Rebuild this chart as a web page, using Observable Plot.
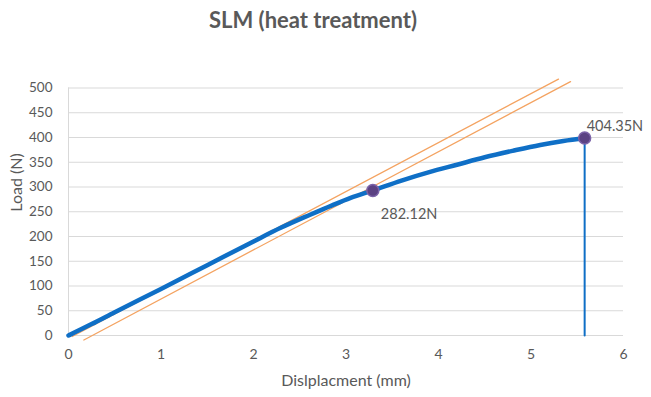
<!DOCTYPE html>
<html>
<head>
<meta charset="utf-8">
<script src="https://cdn.jsdelivr.net/npm/d3@7"></script>
<script src="https://cdn.jsdelivr.net/npm/@observablehq/plot@0.6"></script>
<style>
  html, body { margin: 0; padding: 0; background: #fff; }
  #title { width: 651px; height: 40px; line-height: 40px; font-family: Lato, "Open Sans", sans-serif; font-weight: bold; font-size: 22px; color: #595959; text-align: center; box-sizing: border-box; padding-right: 25px; }
</style>
</head>
<body>
<div id="title">SLM (heat treatment)</div>
<div id="chart"></div>
<script>
// Load–displacement curve (mm, N)
const curveX = [0, 0.25, 0.5, 1.0, 1.5, 2.0, 2.3, 2.6, 2.85, 3.05, 3.29, 3.6, 3.9, 4.2, 4.5, 4.8, 5.1, 5.35, 5.58];
const curveY = [0, 23, 47, 94, 142, 190, 218, 243, 263, 278, 293, 313, 330, 345, 360, 373, 385, 393, 399];
// Drop at failure
const dropX = [5.58, 5.58];
const dropY = [399, 0];
// Offset (tangent) lines
const tangent1X = [0.04, 5.297];
const tangent1Y = [-2, 518];
const tangent2X = [0.166, 5.427];
const tangent2Y = [-9, 513];
// Marked points
const markX = [3.29, 5.58];
const markY = [293, 399];
const markLabels = ["282.12N", "404.35N"];
const xTicks = [0, 1, 2, 3, 4, 5, 6];
const yTicks = [0, 50, 100, 150, 200, 250, 300, 350, 400, 450, 500];
const xLabel = "Dislplacment (mm)";
const yLabel = "Load (N)";

const curve = curveX.map((x, i) => ({x, y: curveY[i]}));
const drop = dropX.map((x, i) => ({x, y: dropY[i]}));
const t1 = tangent1X.map((x, i) => ({x, y: tangent1Y[i]}));
const t2 = tangent2X.map((x, i) => ({x, y: tangent2Y[i]}));
const marks = markX.map((x, i) => ({x, y: markY[i], label: markLabels[i]}));

const font = 'Lato, "Open Sans", sans-serif';
const grey = "#595959";

const plot = Plot.plot({
  width: 651,
  height: 357,
  marginLeft: 68,
  marginRight: 28,
  marginTop: 47.5,
  marginBottom: 62,
  style: {fontFamily: font, fontSize: "13.5px", color: grey, background: "#fff"},
  x: {domain: [0, 6]},
  y: {domain: [0, 500]},
  marks: [
    Plot.gridY(yTicks, {stroke: "#d9d9d9", strokeOpacity: 1, strokeWidth: 1}),
    Plot.ruleX([0], {stroke: "#d9d9d9", strokeWidth: 1}),
    Plot.axisX(xTicks, {tickSize: 0, tickPadding: 14, label: null, fill: grey, fontSize: 14}),
    Plot.axisY(yTicks, {tickSize: 0, tickPadding: 16, label: null, fill: grey, fontSize: 13.5}),
    Plot.line(t1, {x: "x", y: "y", stroke: "#f4a361", strokeWidth: 1.3}),
    Plot.line(t2, {x: "x", y: "y", stroke: "#f4a361", strokeWidth: 1.3}),
    Plot.line(curve, {x: "x", y: "y", stroke: "#0f6fc6", strokeWidth: 4.5, curve: "monotone-x"}),
    Plot.line(drop, {x: "x", y: "y", stroke: "#0f6fc6", strokeWidth: 2}),
    Plot.dot(marks, {x: "x", y: "y", r: 6, fill: "#5b4283", stroke: "#7b62a8", strokeWidth: 1.5}),
    Plot.text([marks[0]], {x: "x", y: "y", text: "label", textAnchor: "start", dx: 8, dy: 24, fill: grey, fontSize: 14.5}),
    Plot.text([marks[1]], {x: "x", y: "y", text: "label", textAnchor: "start", dx: 2, dy: -12, fill: grey, fontSize: 14.5}),
    Plot.text([xLabel], {frameAnchor: "bottom", dy: 50, fill: grey, fontSize: 16}),
    Plot.text([yLabel], {frameAnchor: "left", dx: -52, rotate: -90, fill: grey, fontSize: 16})
  ]
});
document.getElementById("chart").appendChild(plot);
</script>
</body>
</html>
